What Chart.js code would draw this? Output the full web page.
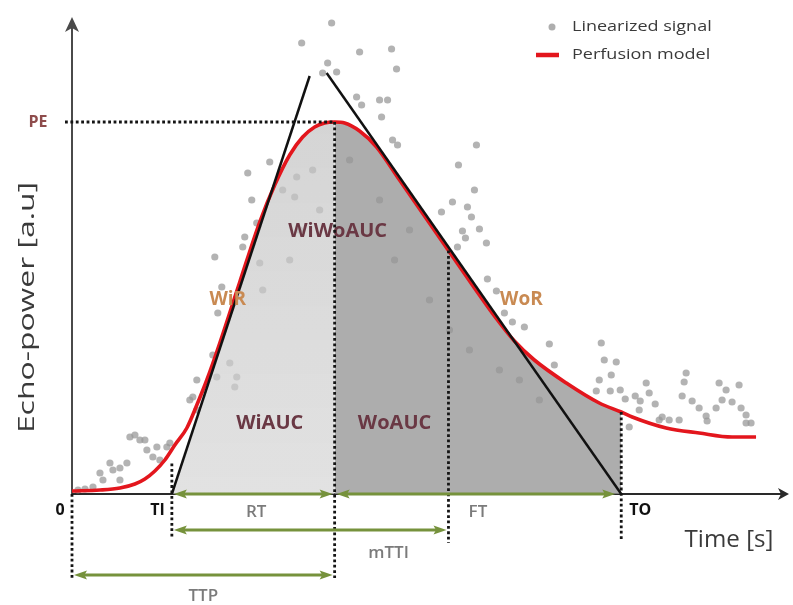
<!DOCTYPE html>
<html>
<head>
<meta charset="utf-8">
<script src="https://cdn.jsdelivr.net/npm/chart.js@4.4.1/dist/chart.umd.min.js"></script>
<style>
  html, body { margin: 0; padding: 0; background: #fff; }
  canvas { display: block; }
</style>
</head>
<body>
<canvas id="chart" width="793" height="605"></canvas>
<script>
// Linearized echo signal samples: time [s] and echo-power [a.u.]
const signalTime = [
  0.6, 1.3, 2.1, 2.8, 3.1, 3.8, 4.1, 4.8, 4.8, 5.5, 5.8, 6.3, 6.8, 7.3, 7.5, 8.1, 8.5, 8.8, 9.5, 9.8,
  11.8, 12.1, 12.5, 12.5, 14.1, 14.5, 15.8, 16.3, 16.5, 14.6, 15.0, 14.3, 17.1, 17.3, 18.8, 19.1, 18.5, 18.0, 17.6, 19.8,
  21.1, 22.3, 22.5, 24.1, 21.8, 22.8, 24.8,
  23.0, 26.0, 25.6, 25.1, 26.5, 28.8, 32.0, 32.5, 28.5, 29.0, 30.8, 31.6, 31.0, 32.1, 32.6,
  27.8, 30.8, 33.8, 32.3, 35.8, 37.8, 39.8, 42.8, 44.8, 46.8,
  40.5, 38.7, 40.3, 38.1, 37.0, 39.6, 40.0, 40.8, 39.1, 39.4, 41.5, 38.6, 41.6, 42.5, 43.3, 44.1, 45.3, 47.8, 48.3,
  53.0, 53.3, 54.5, 54.0, 52.8, 52.5, 53.9, 54.9, 55.4, 56.4, 56.9, 57.5, 57.8, 58.4, 56.8, 59.1, 59.8, 60.8, 55.8, 58.8,
  61.5, 61.3, 61.1, 62.1, 62.8, 63.5, 63.6, 64.5, 64.8, 65.5, 66.8, 65.1, 66.1, 67.0, 67.5, 68.0, 67.5
];
const signalPower = [
  0.4, 0.5, 0.7, 2.1, 1.4, 3.1, 2.4, 1.4, 2.6, 3.1, 5.7, 5.9, 5.4, 5.4, 4.4, 3.7, 4.7, 3.4, 4.7, 5.1,
  9.4, 9.7, 11.4, 8.4, 13.9, 11.7, 13.1, 10.7, 11.7, 18.1, 20.7, 23.7, 24.7, 25.7, 23.1, 20.4, 27.1, 29.4, 32.1, 33.2,
  30.4, 29.7, 31.7, 32.4, 23.4, 26.4, 28.4,
  45.1, 47.1, 43.1, 42.1, 42.2, 44.2, 44.5, 42.5, 39.7, 38.9, 39.4, 39.4, 37.7, 35.4, 34.9,
  33.4, 29.4, 26.4, 23.4, 19.4, 16.4, 14.4, 12.4, 11.4, 9.4,
  34.9, 32.9, 30.4, 29.2, 28.2, 28.7, 27.7, 26.5, 26.3, 25.6, 25.1, 24.7, 21.5, 20.3, 18.1, 17.2, 16.7, 15.0, 12.9,
  15.1, 13.4, 13.2, 11.9, 11.4, 10.3, 10.3, 10.4, 9.5, 9.8, 9.3, 11.1, 10.1, 9.0, 8.4, 7.7, 7.4, 7.4, 6.7, 7.4,
  12.1, 11.2, 9.8, 9.3, 8.6, 7.8, 7.3, 8.6, 11.1, 10.4, 10.9, 9.4, 9.2, 8.6, 7.9, 7.1, 7.1
];

// Fitted perfusion model
const modelTime = [
  0, 2.8, 4.8, 6.3, 7.3, 8.3, 9.3, 10.3, 11.5, 12.5, 13.5, 14.8, 16.8, 18.8, 20.3, 21.8, 23.1, 24.3, 25.3,
  26.3, 27.3, 28.8, 30.5, 32.8, 35.3, 37.8, 40.3, 42.3, 44.3, 46.3, 49.5, 52.8, 55.0, 56.1, 59.5, 62.8, 66.1, 68.5
];
const modelPower = [
  0.3, 0.4, 0.6, 1.0, 1.5, 2.3, 3.4, 4.9, 6.6, 8.9, 11.4, 15.1, 21.2, 27.2, 30.9, 33.9, 35.7, 36.7, 37.1,
  37.2, 37.1, 36.3, 34.7, 31.4, 27.8, 24.2, 20.6, 17.8, 15.3, 13.4, 11.1, 9.1, 8.2, 7.7, 6.6, 6.1, 5.7, 5.7
];

// Wash-in and wash-out tangent lines
const washInTime = [10.0, 23.8];
const washInPower = [0, 41.8];
const washOutTime = [25.5, 55.0];
const washOutPower = [42.1, 0];

// Timing parameters [s]
const TI = 10.0;    // time of appearance
const TTP = 26.3;   // time to peak
const MTTI = 37.7;  // mean transit time (local)
const TO = 55.0;    // wash-out end

const pairs = (xs, ys) => xs.map((x, i) => ({ x, y: ys[i] }));
const signal = pairs(signalTime, signalPower);
const model = pairs(modelTime, modelPower);
const washIn = pairs(washInTime, washInPower);
const washOut = pairs(washOutTime, washOutPower);
const PE = Math.max(...modelPower);

// Wash-in area: right of the wash-in line, under the model, up to the peak
const inSlope = (washInPower[1] - washInPower[0]) / (washInTime[1] - washInTime[0]);
const washInArea = [{ x: TI, y: 0 }].concat(
  model.filter(p => p.x > TI && p.x <= TTP && p.y <= inSlope * (p.x - TI)));
// Wash-out area: under the model from the peak to TO
const washOutArea = model.filter(p => p.x >= TTP && p.x <= TO);

function modelAt(t) {
  for (let i = 1; i < modelTime.length; i++) {
    if (t <= modelTime[i]) {
      const f = (t - modelTime[i - 1]) / (modelTime[i] - modelTime[i - 1]);
      return modelPower[i - 1] + f * (modelPower[i] - modelPower[i - 1]);
    }
  }
  return modelPower[modelPower.length - 1];
}

const FONT = "'Open Sans', 'DejaVu Sans', sans-serif";
const GREEN = '#76923c';

function dotted(ctx, x1, y1, x2, y2) {
  ctx.save();
  ctx.strokeStyle = '#141414';
  ctx.lineWidth = 2.8;
  ctx.setLineDash([2.8, 2.6]);
  ctx.beginPath();
  ctx.moveTo(x1, y1);
  ctx.lineTo(x2, y2);
  ctx.stroke();
  ctx.restore();
}

function span(ctx, xa, xb, yy) {
  const L = 13, W = 4.5;
  ctx.save();
  ctx.strokeStyle = GREEN;
  ctx.fillStyle = GREEN;
  ctx.lineWidth = 3;
  ctx.beginPath();
  ctx.moveTo(xa + L - 3, yy);
  ctx.lineTo(xb - L + 3, yy);
  ctx.stroke();
  [[xa, 1], [xb, -1]].forEach(([px, d]) => {
    ctx.beginPath();
    ctx.moveTo(px, yy);
    ctx.lineTo(px + d * L, yy - W);
    ctx.lineTo(px + d * L * 0.8, yy);
    ctx.lineTo(px + d * L, yy + W);
    ctx.closePath();
    ctx.fill();
  });
  ctx.restore();
}

// sx stretches the glyphs along the reading direction
function text(ctx, str, px, py, font, color, align, sx) {
  ctx.save();
  ctx.translate(px, py);
  ctx.scale(sx || 1, 1);
  ctx.font = font;
  ctx.fillStyle = color;
  ctx.textAlign = align || 'center';
  ctx.textBaseline = 'middle';
  ctx.fillText(str, 0, 0);
  ctx.restore();
}

const schematic = {
  id: 'schematic',
  beforeDatasetsDraw(chart) {
    const { ctx, chartArea: a, scales: { x, y } } = chart;
    const x0 = x.getPixelForValue(0), y0 = y.getPixelForValue(0);
    ctx.save();
    ctx.strokeStyle = '#4a4a4a';
    ctx.fillStyle = '#4a4a4a';
    ctx.lineWidth = 2;
    // vertical axis with arrow
    ctx.beginPath(); ctx.moveTo(x0, y0); ctx.lineTo(x0, a.top + 8); ctx.stroke();
    ctx.beginPath();
    ctx.moveTo(x0, a.top);
    ctx.lineTo(x0 - 7, a.top + 15);
    ctx.lineTo(x0, a.top + 11);
    ctx.lineTo(x0 + 7, a.top + 15);
    ctx.closePath(); ctx.fill();
    // horizontal axis with arrow
    ctx.strokeStyle = '#2a2a2a';
    ctx.fillStyle = '#2a2a2a';
    ctx.beginPath(); ctx.moveTo(x0, y0); ctx.lineTo(a.right - 6, y0); ctx.stroke();
    ctx.beginPath();
    ctx.moveTo(a.right, y0);
    ctx.lineTo(a.right - 11, y0 - 6);
    ctx.lineTo(a.right - 8, y0);
    ctx.lineTo(a.right - 11, y0 + 6);
    ctx.closePath(); ctx.fill();
    ctx.restore();
  },
  afterDatasetsDraw(chart) {
    const { ctx, chartArea: a, scales: { x, y } } = chart;
    const X = v => x.getPixelForValue(v), Y = v => y.getPixelForValue(v);

    // area and slope labels
    const areaFont = `bold 20px ${FONT}`;
    const areaColor = '#6a3844';
    text(ctx, 'WiWoAUC', X(26.6), Y(26.3), areaFont, areaColor);
    text(ctx, 'WiAUC', X(19.8), Y(7.1), areaFont, areaColor);
    text(ctx, 'WoAUC', X(32.3), Y(7.1), areaFont, areaColor);
    const slopeFont = `bold 19px ${FONT}`;
    const slopeColor = '#c98a52';
    text(ctx, 'WiR', X(15.6), Y(19.4), slopeFont, slopeColor);
    text(ctx, 'WoR', X(45.0), Y(19.4), slopeFont, slopeColor);

    // dotted guides
    dotted(ctx, X(0) - 7, Y(PE), X(TTP), Y(PE));
    dotted(ctx, X(TTP), Y(PE), X(TTP), Y(-8.4));
    dotted(ctx, X(0), Y(0), X(0), Y(-8.4));
    dotted(ctx, X(TI), Y(modelAt(TI) - 1.4), X(TI), Y(-4.4));
    dotted(ctx, X(MTTI), Y(modelAt(MTTI)), X(MTTI), Y(-4.9));
    dotted(ctx, X(TO), Y(modelAt(TO)), X(TO), Y(-4.6));

    // time spans
    span(ctx, X(TI) + 2, X(TTP) - 2, Y(0));
    span(ctx, X(TTP) + 2, X(TO) - 6, Y(0));
    span(ctx, X(TI) + 2, X(MTTI) - 2, Y(-3.6));
    span(ctx, X(0) + 2, X(TTP) - 2, Y(-8.1));

    const spanFont = `600 17px ${FONT}`;
    const spanColor = '#7b7b7b';
    text(ctx, 'RT', X((TI + TTP) / 2) + 3, Y(-1.8), spanFont, spanColor);
    text(ctx, 'FT', X((TTP + TO) / 2), Y(-1.8), spanFont, spanColor);
    text(ctx, 'mTTI', X(31.7), Y(-5.9), spanFont, spanColor);
    text(ctx, 'TTP', X(TTP / 2), Y(-10.2), spanFont, spanColor);

    const markFont = `bold 16px ${FONT}`;
    text(ctx, '0', X(0) - 12, Y(-1.6), markFont, '#111');
    text(ctx, 'TI', X(TI) - 7, Y(-1.6), markFont, '#111', 'right');
    text(ctx, 'TO', X(TO) + 8, Y(-1.6), markFont, '#111', 'left');
    text(ctx, 'PE', X(0) - 34, Y(PE), `bold 16px ${FONT}`, '#8e4c4c');

    // axis titles
    ctx.save();
    ctx.translate(a.left - 44, (a.top + a.bottom) / 2 + 52);
    ctx.rotate(-Math.PI / 2);
    text(ctx, 'Echo-power [a.u]', 0, 0, `22px ${FONT}`, '#3a3a3a', 'center', 1.45);
    ctx.restore();
    text(ctx, 'Time [s]', a.right - 60, Y(-4.6), `23px ${FONT}`, '#3a3a3a', 'center', 1.05);

    // legend
    const lx = a.right - 253, ly1 = a.top + 10, ly2 = a.top + 38;
    ctx.save();
    ctx.fillStyle = 'rgba(160,160,160,0.85)';
    ctx.beginPath(); ctx.arc(lx + 16, ly1, 3.5, 0, Math.PI * 2); ctx.fill();
    ctx.strokeStyle = '#e3161d';
    ctx.lineWidth = 4.5;
    ctx.beginPath(); ctx.moveTo(lx, ly2); ctx.lineTo(lx + 23, ly2); ctx.stroke();
    ctx.restore();
    text(ctx, 'Linearized signal', lx + 36, ly1, `15px ${FONT}`, '#3a3a3a', 'left', 1.2);
    text(ctx, 'Perfusion model', lx + 36, ly2, `15px ${FONT}`, '#3a3a3a', 'left', 1.2);
  }
};

new Chart(document.getElementById('chart').getContext('2d'), {
  type: 'scatter',
  data: {
    datasets: [
      {
        label: 'Linearized signal',
        data: signal,
        showLine: false,
        pointRadius: 3.6,
        pointBorderWidth: 0,
        pointBackgroundColor: 'rgba(150,150,150,0.72)',
        order: 6
      },
      {
        label: 'WiAUC',
        data: washInArea,
        showLine: true,
        borderColor: 'transparent',
        pointRadius: 0,
        fill: 'origin',
        backgroundColor: (c) => {
          const a = c.chart.chartArea;
          if (!a) return 'rgba(200,200,200,0.72)';
          const g = c.chart.ctx.createLinearGradient(0, a.top + 100, 0, a.bottom);
          g.addColorStop(0, 'rgba(196,196,196,0.72)');
          g.addColorStop(1, 'rgba(212,212,212,0.68)');
          return g;
        },
        order: 5
      },
      {
        label: 'WoAUC',
        data: washOutArea,
        showLine: true,
        borderColor: 'transparent',
        pointRadius: 0,
        fill: 'origin',
        backgroundColor: 'rgba(150,150,150,0.78)',
        order: 4
      },
      {
        label: 'Perfusion model',
        data: model,
        showLine: true,
        borderColor: '#e3161d',
        borderWidth: 3.6,
        pointRadius: 0,
        cubicInterpolationMode: 'monotone',
        order: 2
      },
      {
        label: 'WiR',
        data: washIn,
        showLine: true,
        borderColor: '#111',
        borderWidth: 2.5,
        pointRadius: 0,
        order: 1
      },
      {
        label: 'WoR',
        data: washOut,
        showLine: true,
        borderColor: '#111',
        borderWidth: 2.5,
        pointRadius: 0,
        order: 1
      }
    ]
  },
  options: {
    responsive: false,
    animation: false,
    events: [],
    layout: { padding: { left: 72, right: 3, top: 17, bottom: 111 } },
    scales: {
      x: { type: 'linear', min: 0, max: 71.8, display: false },
      y: { type: 'linear', min: 0, max: 47.7, display: false }
    },
    plugins: {
      legend: { display: false },
      tooltip: { enabled: false }
    }
  },
  plugins: [schematic]
});
</script>
</body>
</html>
